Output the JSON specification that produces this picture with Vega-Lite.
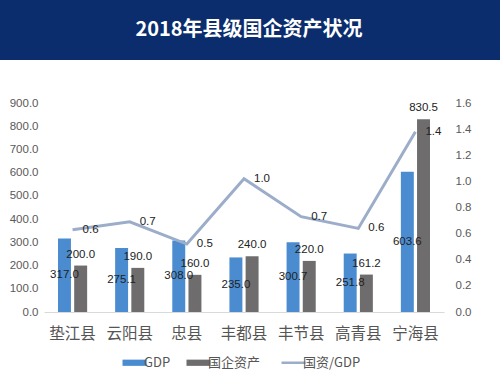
{
  "$schema": "https://vega.github.io/schema/vega-lite/v6.json",
  "padding": 0,
  "background": "white",
  "spacing": 37,
  "center": true,
  "bounds": "full",
  "resolve": {"legend": {"color": "independent"}},
  "config": {
    "view": {"stroke": null},
    "font": "Liberation Sans",
    "legend": {
      "orient": "bottom",
      "direction": "horizontal",
      "title": null,
      "labelFont": "Noto Sans CJK SC",
      "labelFontSize": 13,
      "labelColor": "#555555",
      "symbolSize": 576,
      "labelOffset": 3,
      "columnPadding": 15,
      "offset": 14,
      "layout": {"bottom": {"anchor": "middle"}}
    },
    "axisY": {"labelOverlap": false, "grid": false, "ticks": false, "domain": false, "title": null, "labelFontSize": 11.5, "labelColor": "#595959", "format": ".1f"}
  },
  "vconcat": [
    {
      "width": 544,
      "height": 60,
      "view": {"fill": "#0b2d6d", "stroke": null},
      "data": {"values": [{"t": "2018年县级国企资产状况"}]},
      "mark": {"type": "text", "font": "Noto Sans CJK SC", "fontSize": 20, "fontWeight": "bold", "color": "white", "letterSpacing": 1.5, "baseline": "middle", "align": "center", "dx": -23},
      "encoding": {"text": {"field": "t"}}
    },
    {
      "width": 400,
      "height": 209,
      "data": {"values": [
        {"county": "垫江县", "GDP": 317.0, "资产": 200.0, "ratio": 0.63},
        {"county": "云阳县", "GDP": 275.1, "资产": 190.0, "ratio": 0.69},
        {"county": "忠县", "GDP": 308.0, "资产": 160.0, "ratio": 0.52},
        {"county": "丰都县", "GDP": 235.0, "资产": 240.0, "ratio": 1.02},
        {"county": "丰节县", "GDP": 300.7, "资产": 220.0, "ratio": 0.73},
        {"county": "高青县", "GDP": 251.8, "资产": 161.2, "ratio": 0.64},
        {"county": "宁海县", "GDP": 603.6, "资产": 830.5, "ratio": 1.38}
      ]},
      "resolve": {"scale": {"y": "independent"}},
      "layer": [
        {
          "layer": [
            {
              "transform": [{"fold": ["GDP", "资产"], "as": ["k", "v"]}, {"calculate": "datum.k === '资产' ? '国企资产' : datum.k", "as": "key"}],
              "mark": {"type": "bar"},
              "encoding": {
                "x": {"field": "county", "type": "nominal", "sort": null,
                  "scale": {"paddingInner": 0.49, "paddingOuter": 0.245},
                  "axis": {"title": null, "labelAngle": 0, "ticks": false, "domainColor": "#d9d9d9", "labelFont": "Noto Sans CJK SC", "labelFontSize": 15.5, "labelColor": "#555555", "labelPadding": 14, "labelOverlap": false}},
                "xOffset": {"field": "key", "type": "nominal", "scale": {"domain": ["GDP", "国企资产"], "paddingInner": 0.2}},
                "y": {"field": "v", "type": "quantitative", "scale": {"domain": [0, 900], "nice": false},
                  "axis": {"orient": "left", "values": [0,100,200,300,400,500,600,700,800,900], "tickCount": 10, "labelPadding": 6, "minExtent": 44}},
                "color": {"field": "key", "type": "nominal",
                  "scale": {"domain": ["GDP", "国企资产", "国资/GDP"], "range": ["#4a8ccf", "#6e6c6c", "#9cadc9"]},
                  "legend": {
                    "title": null,
                    "encode": {"symbols": {"update": {
                      "shape": {"signal": "datum.value === '国资/GDP' ? 'stroke' : 'M-1,-0.26H1V0.26H-1Z'"},
                      "fill": {"signal": "datum.value === '国资/GDP' ? 'transparent' : scale('color', datum.value)"},
                      "stroke": {"signal": "scale('color', datum.value)"},
                      "strokeWidth": {"signal": "datum.value === '国资/GDP' ? 2.5 : 0"},
                      "opacity": {"value": 1}
                    }}}
                  }}
              }
            },
            {
              "transform": [{"calculate": "datum.GDP / 2", "as": "mid"}],
              "mark": {"type": "text", "fontSize": 11.5, "color": "#222222", "baseline": "middle"},
              "encoding": {
                "x": {"field": "county", "type": "nominal", "sort": null},
                "xOffset": {"datum": "GDP"},
                "y": {"field": "mid", "type": "quantitative",
                  "axis": {"orient": "left", "values": [0,100,200,300,400,500,600,700,800,900], "tickCount": 10, "labelPadding": 6, "minExtent": 44}},
                "text": {"field": "GDP", "type": "quantitative", "format": ".1f"}
              }
            },
            {
              "mark": {"type": "text", "fontSize": 11.5, "color": "#222222", "baseline": "middle", "dy": -11},
              "encoding": {
                "x": {"field": "county", "type": "nominal", "sort": null},
                "xOffset": {"datum": "国企资产"},
                "y": {"field": "资产", "type": "quantitative",
                  "axis": {"orient": "left", "values": [0,100,200,300,400,500,600,700,800,900], "tickCount": 10, "labelPadding": 6, "minExtent": 44}},
                "text": {"field": "资产", "type": "quantitative", "format": ".1f"}
              }
            }
          ]
        },
        {
          "layer": [
            {
              "mark": {"type": "line", "strokeWidth": 3},
              "encoding": {
                "x": {"field": "county", "type": "nominal", "sort": null},
                "y": {"field": "ratio", "type": "quantitative", "scale": {"domain": [0, 1.6], "nice": false},
                  "axis": {"orient": "right", "values": [0,0.2,0.4,0.6,0.8,1.0,1.2,1.4,1.6], "tickCount": 9, "labelPadding": 11, "minExtent": 56}},
                "color": {"datum": "国资/GDP"}
              }
            },
            {
              "mark": {"type": "text", "fontSize": 11.5, "color": "#222222", "baseline": "middle", "dx": 18},
              "encoding": {
                "x": {"field": "county", "type": "nominal", "sort": null},
                "y": {"field": "ratio", "type": "quantitative",
                  "axis": {"orient": "right", "values": [0,0.2,0.4,0.6,0.8,1.0,1.2,1.4,1.6], "tickCount": 9, "labelPadding": 11, "minExtent": 56}},
                "text": {"field": "ratio", "type": "quantitative", "format": ".1f"}
              }
            }
          ]
        }
      ]
    }
  ]
}
